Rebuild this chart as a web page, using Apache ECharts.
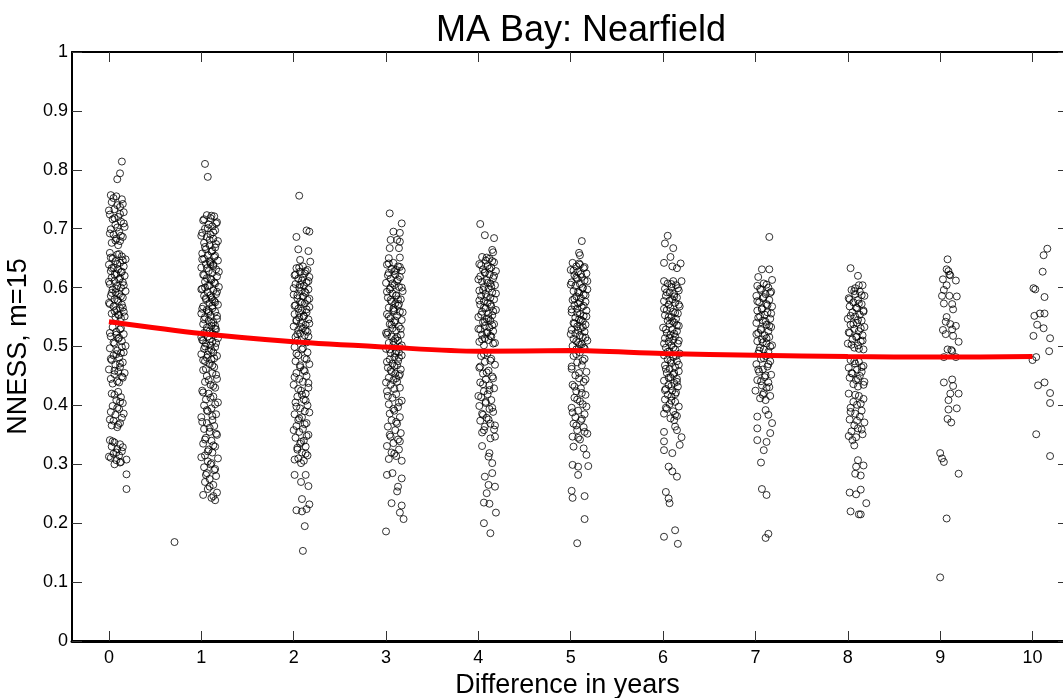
<!DOCTYPE html>
<html>
<head>
<meta charset="utf-8">
<script src="https://cdn.jsdelivr.net/npm/echarts@6/dist/echarts.min.js"></script>
<style>html,body{margin:0;padding:0;background:#fff}#c{width:1063px;height:698px}</style>
</head>
<body>
<div id="c"></div>
<script>
// x tick labels (years) and y ticks
const years = [0,1,2,3,4,5,6,7,8,9,10];
const yTicks = [0,0.1,0.2,0.3,0.4,0.5,0.6,0.7,0.8,0.9,1];
// smoothed trend line (red), one value per year
const trend = [0.542,0.522,0.508,0.499,0.492,0.493,0.488,0.485,0.483,0.482,0.483];
// scatter points per year: [jitter offset, NNESS]
const col0 = [[.14,.814],[.12,.794],[.09,.784],
[.02,.757],[.05,.752],[.14,.750],[.03,.745],[.09,.740],[.12,.737],[.06,.733],[.16,.728],[.01,.724],[.10,.720],[.04,.716],[.13,.712],[.07,.707],[.17,.703],[.02,.699],[.11,.695],[.05,.690],[.15,.686],[.08,.683],[.12,.679],[.03,.676],[.10,.672],
[.08,.755],[.15,.742],[.00,.731],[.12,.725],[.06,.718],[.16,.709],[.09,.702],[.01,.692],[.13,.688],[.07,.680],
[.01,.659],[.09,.656],[.14,.653],[.04,.650],[.18,.648],[.07,.645],[.12,.642],[.00,.639],[.16,.636],[.05,.634],[.10,.631],[.02,.628],[.13,.626],[.08,.623],[.17,.620],[.03,.617],[.11,.614],[.06,.611],[.15,.609],[.01,.606],[.09,.603],[.13,.600],[.04,.597],[.18,.594],[.07,.592],[.11,.589],[.02,.586],[.15,.583],[.06,.580],[.10,.577],[.00,.574],[.14,.571],[.05,.568],[.12,.565],[.08,.562],[.16,.559],[.03,.556],[.11,.553],[.07,.550],[.13,.548],
[.11,.657],[.02,.651],[.15,.646],[.09,.640],[.03,.633],[.14,.627],[.06,.622],[.12,.616],[.00,.610],[.16,.604],[.08,.598],[.03,.591],[.13,.585],[.09,.579],[.01,.572],[.15,.566],[.06,.560],[.10,.554],[.17,.551],
[.04,.533],[.12,.529],[.08,.525],[.16,.521],[.02,.517],[.10,.513],[.14,.509],[.06,.505],[.18,.501],[.01,.497],[.09,.493],[.13,.489],[.05,.485],[.11,.481],[.03,.477],[.15,.473],[.07,.469],[.12,.465],[.00,.461],[.10,.457],[.06,.453],[.14,.449],[.02,.445],[.09,.441],[.04,.437],[.17,.455],[.16,.490],[.08,.520],
[.13,.531],[.01,.523],[.11,.515],[.05,.507],[.14,.499],[.08,.487],[.02,.479],[.12,.471],[.06,.459],[.15,.447],[.11,.439],
[.10,.423],[.06,.418],[.13,.414],[.08,.409],[.15,.404],[.04,.399],[.11,.394],[.02,.389],[.07,.384],[.14,.379],[.05,.374],[.12,.370],[.03,.366],[.09,.363],
[.03,.420],[.12,.406],[.09,.396],[.16,.386],[.01,.376],[.10,.367],
[.01,.341],[.06,.337],[.12,.334],[.03,.330],[.09,.326],[.14,.322],[.05,.318],[.11,.315],[.02,.311],[.08,.307],[.13,.304],[.06,.300],
[.04,.339],[.15,.329],[.08,.320],[.00,.313],[.12,.303],
[.19,.308],[.19,.283],[.19,.258]];
const col1 = [[.04,.810],[.07,.788],[-.29,.168],
[.06,.723],[.14,.721],[.10,.718],[.02,.714],[.17,.711],[.08,.707],[.12,.704],[.04,.700],[.15,.697],[.01,.693],[.10,.690],[.06,.686],[.13,.683],[.18,.679],[.03,.676],[.09,.672],[.15,.668],[.05,.665],[.11,.661],[.01,.658],
[.11,.722],[.03,.716],[.16,.709],[.07,.701],[.13,.694],[.00,.688],[.09,.681],[.16,.674],[.04,.669],[.12,.663],
[.07,.655],[.14,.652],[.03,.649],[.18,.646],[.10,.643],[.05,.640],[.13,.637],[.00,.634],[.16,.631],[.08,.628],[.12,.625],[.02,.622],[.17,.619],[.06,.616],[.11,.613],[.04,.610],[.15,.607],[.09,.604],[.19,.601],[.01,.598],[.13,.595],[.07,.592],[.16,.589],[.03,.586],[.11,.583],[.05,.580],[.14,.577],[.09,.574],[.18,.571],[.02,.568],[.12,.565],[.06,.562],[.15,.559],[.00,.556],[.10,.553],[.04,.550],[.17,.547],[.08,.544],[.13,.541],[.02,.538],[.11,.535],[.06,.532],[.16,.529],[.09,.526],[.03,.523],[.14,.520],[.07,.517],[.18,.514],[.01,.511],[.12,.508],[.05,.505],[.10,.502],[.15,.499],[.03,.496],[.08,.493],[.13,.490],[.00,.487],[.17,.484],[.06,.481],[.11,.478],[.04,.475],
[.10,.640],[.04,.600],[.12,.580],[.08,.560],[.15,.530],[.02,.510],
[.15,.654],[.01,.648],[.09,.645],[.13,.639],[.06,.633],[.19,.627],[.03,.621],[.10,.615],[.14,.609],[.07,.603],[.00,.597],[.17,.593],[.10,.587],[.05,.582],[.15,.575],[.12,.569],[.01,.564],[.08,.557],[.17,.552],[.03,.546],[.11,.540],[.15,.535],[.06,.527],[.12,.522],[.00,.516],[.09,.512],[.16,.506],[.04,.500],[.11,.494],[.07,.486],[.14,.480],[.02,.477],
[.09,.470],[.14,.465],[.02,.460],[.12,.455],[.06,.450],[.17,.445],[.04,.440],[.10,.435],[.15,.430],[.01,.425],[.08,.420],[.13,.415],[.05,.410],[.18,.405],[.03,.400],[.11,.395],[.07,.390],[.16,.385],[.00,.380],[.12,.375],[.06,.370],[.14,.365],[.03,.360],[.09,.355],[.17,.350],[.05,.345],[.11,.340],[.02,.335],[.15,.330],[.08,.325],[.12,.320],[.04,.315],[.18,.310],[.07,.305],[.10,.300],[.03,.295],[.14,.290],[.06,.285],[.16,.280],[.09,.275],[.04,.270],[.13,.265],[.07,.258],[.17,.252],[.02,.248],[.11,.243],[.15,.239],
[.12,.468],[.05,.462],[.16,.452],[.08,.443],[.13,.433],[.02,.422],[.10,.413],[.15,.402],[.06,.392],[.12,.382],[.01,.372],[.09,.362],[.16,.352],[.04,.342],[.13,.332],[.07,.322],[.00,.312],[.11,.302],[.15,.292],[.05,.282],[.09,.262],[.13,.246]];
const col2 = [[.06,.756],[.03,.686],[.14,.697],[.17,.695],[.05,.665],[.16,.662],[.07,.647],[.18,.644],
[.10,.636],[.03,.633],[.15,.630],[.07,.627],[.12,.624],[.01,.621],[.17,.618],[.05,.615],[.09,.612],[.14,.609],[.02,.606],[.11,.603],[.06,.600],[.16,.597],[.08,.594],[.13,.591],[.00,.588],[.10,.585],[.04,.582],[.15,.579],[.07,.576],[.12,.573],[.02,.570],[.17,.567],[.05,.564],[.09,.561],[.14,.558],[.01,.555],[.11,.552],[.06,.549],[.16,.546],[.03,.543],[.08,.540],[.13,.537],[.00,.534],[.10,.531],[.05,.528],[.15,.525],[.07,.522],[.12,.519],[.02,.516],
[.06,.634],[.13,.628],[.02,.622],[.10,.617],[.16,.611],[.07,.605],[.00,.599],[.12,.593],[.04,.587],[.17,.581],[.09,.575],[.01,.569],[.14,.563],[.06,.557],[.11,.551],[.03,.545],[.17,.539],[.08,.533],[.13,.527],[.04,.521],[.16,.517],
[.04,.510],[.14,.507],
[.01,.499],[.09,.495],[.15,.490],[.05,.485],[.12,.480],[.02,.475],[.17,.470],[.07,.465],[.11,.460],[.03,.455],[.14,.450],[.06,.445],[.10,.440],[.00,.435],[.16,.430],[.08,.425],[.13,.420],[.04,.415],[.11,.410],[.02,.405],[.15,.400],[.07,.395],[.12,.390],[.01,.385],[.09,.380],[.05,.375],[.14,.370],[.03,.365],[.10,.360],[.06,.355],[.16,.350],[.02,.345],[.11,.340],[.07,.335],[.13,.330],[.04,.325],[.09,.320],[.15,.315],[.05,.310],[.11,.306],[.08,.302],
[.10,.497],[.03,.488],[.14,.478],[.07,.468],[.12,.458],[.01,.448],[.16,.438],[.05,.428],[.09,.418],[.13,.408],[.03,.398],[.17,.388],[.06,.378],[.12,.368],[.00,.358],[.14,.348],[.08,.338],[.04,.328],[.13,.318],[.01,.308],
[.01,.282],[.13,.282],[.08,.270],[.16,.263],[.09,.241],[.17,.232],[.03,.222],[.09,.220],[.14,.224],[.12,.195],[.10,.153]];
const col3 = [[.04,.726],[.17,.709],[.08,.695],[.15,.693],[.05,.681],[.12,.681],[.15,.678],[.04,.667],[.14,.667],[.03,.650],[.15,.651],
[.08,.642],[.01,.639],[.13,.636],[.06,.632],[.17,.629],[.03,.625],[.10,.622],[.15,.618],[.05,.615],[.12,.611],[.00,.608],[.09,.604],[.14,.601],[.04,.597],[.18,.594],[.07,.590],[.11,.587],[.02,.583],[.16,.580],[.06,.576],[.10,.573],[.13,.569],[.03,.566],[.08,.562],[.15,.559],[.01,.555],[.12,.552],[.05,.548],[.17,.545],[.09,.541],[.04,.538],[.14,.534],[.07,.531],[.11,.527],[.02,.524],[.16,.520],[.06,.517],[.10,.513],[.13,.510],[.03,.506],[.08,.503],[.15,.499],[.00,.496],[.11,.492],[.05,.489],[.17,.485],[.09,.482],[.04,.478],[.13,.475],[.07,.471],[.12,.468],[.02,.464],[.16,.461],[.06,.457],[.10,.454],[.14,.450],[.03,.447],[.08,.443],[.12,.440],
[.11,.630],[.05,.600],[.13,.580],[.09,.560],[.01,.520],[.14,.490],
[.03,.641],[.15,.635],[.09,.628],[.02,.621],[.13,.614],[.07,.607],[.17,.600],[.01,.593],[.11,.586],[.05,.579],[.14,.572],[.08,.565],[.18,.558],[.03,.551],[.10,.544],[.06,.537],[.16,.530],[.00,.523],[.12,.516],[.08,.509],[.17,.502],[.04,.495],[.10,.488],[.14,.481],[.01,.474],[.09,.467],[.05,.460],[.15,.453],[.11,.446],[.00,.439],
[.05,.435],[.15,.430],[.01,.424],[.11,.419],[.07,.413],[.17,.408],[.03,.402],[.13,.397],[.09,.391],[.04,.386],[.15,.380],[.06,.375],[.12,.369],[.02,.364],[.10,.358],[.16,.353],[.05,.347],[.13,.342],[.08,.336],[.01,.331],[.14,.325],[.06,.320],[.11,.314],[.03,.309],[.17,.306],
[.09,.428],[.02,.416],[.14,.405],[.08,.394],[.11,.372],[.04,.350],[.15,.339],[.09,.318],
[.01,.282],[.07,.285],[.13,.262],[.17,.276],[.12,.254],[.06,.234],[.17,.230],[.15,.218],[.19,.207],[.00,.186]];
const col4 = [[.02,.708],[.07,.689],[.17,.684],[.15,.664],[.16,.660],
[.04,.652],[.12,.649],[.08,.646],[.17,.643],[.01,.640],[.10,.637],[.14,.634],[.05,.631],[.19,.628],[.07,.625],[.12,.622],[.02,.619],[.16,.616],[.09,.613],[.04,.610],[.13,.607],[.18,.604],[.06,.601],[.11,.598],[.01,.595],[.15,.592],[.08,.589],[.03,.586],[.13,.583],[.17,.580],[.06,.577],[.10,.574],[.02,.571],[.14,.568],[.08,.565],[.19,.562],[.04,.559],[.11,.556],[.15,.553],[.00,.550],[.09,.547],[.13,.544],[.05,.541],[.17,.538],[.07,.535],[.12,.532],[.02,.529],[.16,.526],[.09,.523],[.04,.520],[.14,.517],[.07,.514],[.11,.511],[.01,.508],[.16,.505],[.06,.502],
[.09,.651],[.15,.645],[.03,.638],[.12,.632],[.07,.626],[.17,.620],[.00,.614],[.10,.608],[.14,.602],[.05,.596],[.19,.590],[.09,.584],[.01,.578],[.13,.572],[.06,.566],[.16,.560],[.03,.554],[.11,.548],[.07,.542],[.15,.536],[.00,.530],[.10,.524],[.13,.518],[.04,.512],[.18,.506],
[.10,.489],[.03,.484],[.14,.479],[.07,.474],[.18,.469],[.01,.464],[.11,.459],[.05,.454],[.15,.449],[.08,.444],[.02,.439],[.12,.434],[.17,.429],[.06,.424],[.10,.419],[.03,.414],[.14,.409],[.08,.404],[.01,.399],[.12,.394],[.16,.389],[.05,.384],[.09,.379],[.02,.374],[.13,.369],[.07,.364],[.17,.359],[.04,.354],
[.06,.487],[.13,.476],[.02,.466],[.09,.456],[.16,.446],[.05,.436],[.12,.426],[.00,.416],[.08,.406],[.15,.396],[.04,.386],[.11,.376],[.18,.366],[.06,.358],
[.13,.344],[.18,.347],[.04,.331],[.12,.319],[.11,.313],[.15,.302],[.07,.279],[.15,.285],[.18,.262],[.11,.265],[.09,.251],[.06,.235],[.12,.233],[.19,.218],[.06,.200],[.13,.183]];
const col5 = [[.12,.679],[.09,.659],[.10,.655],
[.02,.642],[.10,.639],[.06,.636],[.14,.633],[.00,.630],[.08,.627],[.17,.624],[.04,.621],[.12,.618],[.07,.615],[.15,.612],[.01,.609],[.10,.606],[.05,.603],[.13,.600],[.18,.597],[.03,.594],[.09,.591],[.14,.588],[.06,.585],[.11,.582],[.02,.579],[.16,.576],[.08,.573],[.04,.570],[.12,.567],[.07,.564],[.17,.561],[.01,.558],[.10,.555],[.14,.552],[.05,.549],[.09,.546],[.13,.543],[.03,.540],[.16,.537],[.07,.534],[.11,.531],[.01,.528],[.15,.525],[.05,.522],[.10,.519],[.13,.516],[.03,.513],[.18,.510],[.08,.507],[.12,.504],[.02,.501],[.14,.498],[.06,.495],
[.09,.641],[.15,.635],[.03,.629],[.11,.623],[.06,.617],[.18,.611],[.00,.605],[.13,.599],[.08,.593],[.16,.587],[.04,.581],[.10,.575],[.14,.569],[.01,.563],[.07,.557],[.17,.551],[.11,.545],[.04,.539],[.13,.533],[.08,.527],[.00,.521],[.16,.515],[.06,.509],[.10,.503],[.15,.497],
[.10,.490],[.03,.484],[.15,.479],[.07,.473],[.12,.468],[.01,.462],[.17,.457],[.05,.451],[.09,.446],[.14,.440],[.02,.435],[.11,.429],[.06,.424],[.16,.418],[.04,.413],[.10,.407],[.13,.402],[.01,.396],[.08,.391],[.15,.385],[.05,.380],[.11,.374],[.03,.369],[.14,.363],[.07,.358],[.18,.352],[.02,.347],[.10,.342],
[.06,.487],[.13,.476],[.01,.466],[.09,.455],[.16,.444],[.04,.432],[.12,.421],[.07,.410],[.17,.398],[.02,.388],[.12,.377],[.06,.366],[.15,.355],[.08,.345],
[.03,.330],[.14,.327],[.17,.316],[.02,.299],[.08,.296],[.19,.297],[.08,.282],[.01,.255],[.02,.243],[.15,.246],[.15,.207],[.07,.166]];
const col6 = [[.05,.688],[.02,.675],[.11,.667],[.08,.652],[.01,.642],[.19,.641],[.10,.636],[.15,.633],[.01,.611],[.11,.611],[.20,.611],
[.05,.607],[.14,.604],[.09,.601],[.02,.598],[.17,.595],[.07,.592],[.12,.589],[.03,.586],[.15,.583],[.10,.580],[.01,.577],[.13,.574],[.06,.571],[.18,.568],[.08,.565],[.04,.562],[.11,.559],[.16,.556],[.02,.553],[.09,.550],[.14,.547],[.05,.544],[.12,.541],[.07,.538],[.17,.535],[.00,.532],[.10,.529],[.15,.526],[.04,.523],[.08,.520],[.13,.517],[.02,.514],[.11,.511],
[.09,.606],[.16,.599],[.04,.592],[.12,.585],[.07,.578],[.17,.571],[.01,.564],[.13,.557],[.06,.550],[.10,.543],[.15,.536],[.03,.529],[.12,.522],[.07,.515],[.17,.510],
[.06,.508],[.16,.505],[.09,.502],[.03,.498],[.13,.495],[.07,.492],[.18,.488],[.01,.485],[.11,.482],[.05,.478],[.15,.475],[.09,.472],[.02,.468],[.13,.465],[.07,.462],[.17,.458],[.04,.455],[.11,.452],[.08,.448],[.15,.445],[.01,.442],[.12,.438],[.06,.435],[.16,.432],[.03,.428],[.10,.425],[.14,.422],[.05,.418],[.09,.415],
[.01,.505],[.11,.498],[.05,.491],[.14,.484],[.08,.476],[.17,.469],[.03,.462],[.12,.455],[.06,.447],[.15,.440],[.09,.433],[.02,.426],[.13,.419],
[.02,.410],[.13,.406],[.07,.402],[.17,.398],[.04,.394],[.11,.390],[.01,.386],[.15,.382],[.08,.378],[.12,.375],[.09,.408],[.03,.396],[.13,.384],
[.01,.355],[.13,.364],[.15,.358],[.20,.346],[.18,.333],[.01,.339],[.01,.324],[.10,.319],[.06,.296],[.10,.288],[.15,.279],[.03,.253],[.06,.242],[.07,.234],[.01,.177],[.13,.188],[.16,.165]];
const col7 = [[.15,.686],[.07,.631],[.15,.631],[.03,.618],[.18,.613],
[.09,.607],[.02,.603],[.14,.600],[.06,.596],[.17,.593],[.11,.589],[.01,.586],[.08,.582],[.15,.579],[.04,.575],[.12,.572],[.18,.568],[.07,.565],[.02,.561],[.13,.558],[.10,.554],[.05,.551],[.16,.547],[.08,.544],[.01,.540],[.12,.537],[.17,.533],[.06,.530],[.14,.526],[.03,.523],[.10,.519],[.15,.516],[.07,.512],[.02,.509],[.12,.505],[.18,.502],[.05,.498],[.09,.495],[.14,.491],[.03,.488],
[.12,.605],[.05,.598],[.16,.591],[.09,.584],[.02,.577],[.13,.570],[.07,.563],[.17,.556],[.03,.549],[.11,.542],[.15,.535],[.06,.528],[.01,.521],[.12,.514],[.08,.507],[.16,.500],[.04,.493],
[.11,.484],[.06,.479],[.16,.475],[.01,.470],[.13,.466],[.08,.461],[.04,.457],[.17,.452],[.10,.448],[.02,.443],[.14,.439],[.07,.434],[.12,.430],[.00,.425],[.09,.421],[.16,.416],[.05,.412],[.11,.409],
[.09,.480],[.14,.470],[.03,.461],[.11,.451],[.06,.441],[.15,.431],[.08,.418],
[.02,.381],[.11,.392],[.14,.384],[.18,.370],[.02,.361],[.16,.353],[.02,.341],[.12,.338],[.09,.324],[.06,.303],[.07,.258],[.12,.248],[.14,.182],[.11,.175]];
const col8 = [[.03,.633],[.11,.620],[.08,.599],[.12,.604],[.16,.604],
[.04,.596],[.13,.593],[.08,.589],[.18,.586],[.01,.582],[.11,.579],[.06,.575],[.15,.572],[.02,.568],[.10,.565],[.17,.561],[.05,.558],[.13,.554],[.08,.551],[.00,.547],[.15,.544],[.10,.540],[.03,.537],[.18,.533],[.07,.530],[.12,.526],[.02,.523],[.16,.519],[.09,.516],[.05,.512],[.14,.509],[.00,.505],[.11,.502],[.07,.498],[.17,.495],
[.07,.594],[.15,.587],[.02,.580],[.12,.573],[.09,.566],[.17,.559],[.03,.552],[.11,.545],[.06,.538],[.14,.531],[.01,.524],[.10,.517],[.16,.510],[.04,.503],[.12,.496],
[.03,.477],[.12,.474],[.08,.471],[.17,.467],[.01,.464],[.10,.461],[.15,.457],[.05,.454],[.13,.450],[.02,.447],[.09,.443],[.18,.440],[.06,.436],[.11,.432],
[.07,.475],[.15,.465],[.04,.455],[.11,.445],[.17,.435],
[.01,.420],[.12,.416],[.17,.411],[.06,.406],[.10,.401],[.03,.396],[.15,.391],[.08,.386],[.13,.381],[.02,.376],[.18,.371],[.07,.366],[.11,.361],[.04,.356],[.16,.351],[.09,.346],[.05,.341],
[.08,.418],[.14,.403],[.03,.389],[.10,.374],[.15,.359],[.01,.348],
[.07,.332],[.11,.307],[.09,.296],[.17,.298],[.08,.284],[.14,.281],[.02,.252],[.09,.249],[.14,.257],[.20,.234],[.03,.220],[.12,.215],[.14,.215]];
const col9 = [[.08,.648],[.07,.631],[.09,.628],[.10,.622],[.11,.621],[.03,.614],[.17,.612],[.07,.604],[.04,.596],[.02,.586],[.10,.586],[.18,.585],[.04,.573],[.13,.572],[.14,.563],[.07,.550],[.06,.542],[.11,.538],[.17,.535],[.03,.528],[.13,.529],[.06,.521],[.14,.518],[.20,.508],[.08,.495],[.12,.494],[.13,.492],[.04,.482],[.17,.482],[.13,.444],[.04,.439],[.14,.433],[.20,.420],[.11,.420],[.09,.409],[.18,.395],[.09,.393],[.08,.377],[.12,.371],[.00,.319],[.02,.310],[.04,.304],[.20,.284],[.07,.208],[.00,.108]];
const col10 = [[.16,.666],[.12,.655],[.11,.627],[.01,.599],[.03,.597],[.13,.584],[.02,.552],[.08,.556],[.13,.556],[.05,.537],[.12,.531],[.01,.518],[.19,.514],[.18,.492],[.04,.482],[.00,.477],[.13,.439],[.06,.434],[.19,.421],[.19,.404],[.04,.351],[.19,.314]];

const columns = [col0,col1,col2,col3,col4,col5,col6,col7,col8,col9,col10];
const points = [];
columns.forEach((col, i) => col.forEach(p => points.push([years[i] + p[0], p[1]])));
const trendData = years.map((x, i) => [x, trend[i]]);

const FONT = 'Liberation Sans';
const chart = echarts.init(document.getElementById('c'), null, {renderer: 'canvas'});
const tick = (len) => ({show: true, inside: true, length: len, lineStyle: {color: '#333', width: 1}});
chart.setOption({
  animation: false,
  backgroundColor: '#fff',
  title: {
    text: 'MA Bay: Nearfield', left: 576, top: 8, textAlign: 'center',
    textStyle: {fontFamily: FONT, fontSize: 36, fontWeight: 'normal', color: '#000'}
  },
  grid: {left: 72, top: 52, right: 0, height: 589, containLabel: false, outerBoundsMode: 'none'},
  xAxis: [{
    type: 'value', min: -0.4, max: 10.33, position: 'bottom',
    name: 'Difference in years', nameLocation: 'middle', nameGap: 27,
    nameTextStyle: {fontFamily: FONT, fontSize: 27, color: '#000'},
    axisLine: {show: true, onZero: false, lineStyle: {color: '#000', width: 3}},
    axisTick: Object.assign({customValues: years}, tick(10)),
    axisLabel: {customValues: years, fontFamily: FONT, fontSize: 18, color: '#000', margin: 8},
    splitLine: {show: false}
  }, {
    type: 'value', min: -0.4, max: 10.33, position: 'top',
    axisLine: {show: true, onZero: false, lineStyle: {color: '#000', width: 2}},
    axisTick: Object.assign({customValues: years}, tick(10)),
    axisLabel: {show: false},
    splitLine: {show: false}
  }],
  yAxis: [{
    type: 'value', min: 0, max: 1, position: 'left',
    name: 'NNESS, m=15', nameLocation: 'middle', nameGap: 28, nameRotate: 90,
    nameTextStyle: {fontFamily: FONT, fontSize: 27, color: '#000'},
    axisLine: {show: true, onZero: false, lineStyle: {color: '#000', width: 2}},
    axisTick: Object.assign({customValues: yTicks}, tick(10)),
    axisLabel: {customValues: yTicks, fontFamily: FONT, fontSize: 18, color: '#000', margin: 4},
    splitLine: {show: false}
  }, {
    type: 'value', min: 0, max: 1, position: 'right',
    axisLine: {show: false, onZero: false},
    axisTick: Object.assign({customValues: yTicks}, tick(5)),
    axisLabel: {show: false},
    splitLine: {show: false}
  }],
  series: [{
    type: 'scatter', xAxisIndex: 0, yAxisIndex: 0, data: points,
    symbol: 'circle', symbolSize: 7,
    itemStyle: {color: 'rgba(0,0,0,0)', borderColor: '#000', borderWidth: 1},
    emphasis: {disabled: true}, z: 2
  }, {
    type: 'line', xAxisIndex: 0, yAxisIndex: 0, data: trendData,
    smooth: 0.3, showSymbol: false, symbol: 'none',
    lineStyle: {color: '#ff0000', width: 5}, z: 3
  }]
});
</script>
</body>
</html>
